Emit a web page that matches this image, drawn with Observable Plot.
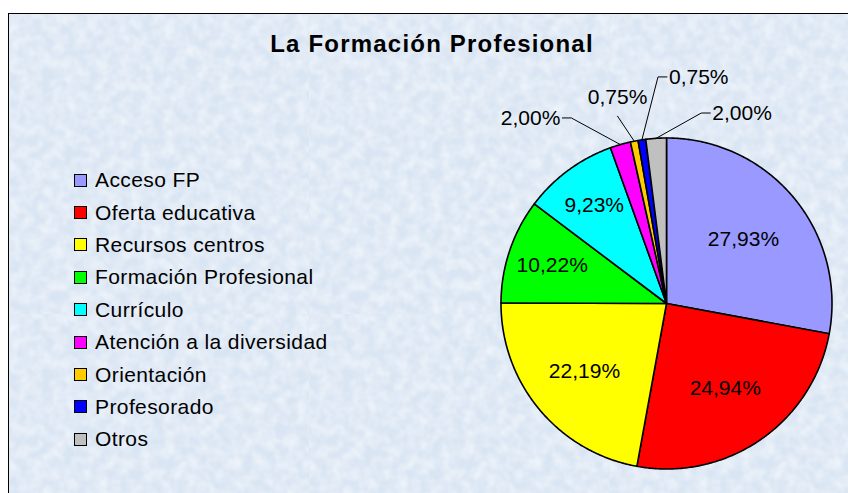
<!DOCTYPE html>
<html><head><meta charset="utf-8">
<script src="https://cdn.jsdelivr.net/npm/d3@7"></script>
<script src="https://cdn.jsdelivr.net/npm/@observablehq/plot@0.6"></script>
<style>
body{margin:0;background:#fff;}
#page{position:relative;width:848px;height:493px;overflow:hidden;font-family:"Liberation Sans",Arial,sans-serif;color:#000;}
#frame{position:absolute;left:8px;top:13px;width:900px;height:520px;border:1px solid #000;background-color:#d9e5f3;
  background-image:url("data:image/svg+xml;utf8,<svg xmlns='http://www.w3.org/2000/svg' width='300' height='300'><filter id='n'><feTurbulence type='fractalNoise' baseFrequency='0.09' numOctaves='2' seed='3'/><feColorMatrix values='0 0 0 0 1  0 0 0 0 1  0 0 0 0 1  0 0 0 0.9 -0.25'/></filter><rect width='100%' height='100%' filter='url(%23n)'/></svg>");}
#title{position:absolute;left:0;width:864px;top:32px;text-align:center;font-size:24px;line-height:24px;font-weight:bold;letter-spacing:1.2px;}
#legend{position:absolute;left:74px;top:164px;width:320px;}
#legend .lg-swatches{font-family:"Liberation Sans",Arial,sans-serif !important;font-size:21px !important;letter-spacing:0.4px;color:#000;margin:0 !important;}
#legend .lg-swatch{height:32.4px;padding:0 !important;margin:0 !important;display:flex !important;align-items:center;}
#legend .lg-swatch > svg{margin-right:8px !important;border:1px solid #000;}
#pie{position:absolute;left:440px;top:40px;}
</style></head>
<body>
<div id="page">
  <div id="frame"></div>
  <div id="title">La Formación Profesional</div>
  <div id="legend"></div>
  <div id="pie"></div>
</div>
<script>
// ---- data ----
const categories = ["Acceso FP","Oferta educativa","Recursos centros","Formación Profesional","Currículo","Atención a la diversidad","Orientación","Profesorado","Otros"];
const values = [27.93, 24.94, 22.19, 10.22, 9.23, 2.00, 0.75, 0.75, 2.00];
const labels = ["27,93%","24,94%","22,19%","10,22%","9,23%","2,00%","0,75%","0,75%","2,00%"];
const colors = ["#9999ff","#ff0000","#ffff00","#00ff00","#00ffff","#ff00ff","#ffcc00","#0000ff","#c0c0c0"];

// ---- layout ----
const R = 165.5, CX = 666, CY = 303;
const PL = 440, PT = 40, PW = 848 - PL, PH = 493 - PT;
const xDomain = [(PL - CX) / R, (PL + PW - CX) / R];
const yDomain = [(CY - (PT + PH)) / R, (CY - PT) / R];
const px = v => v / R;

const total = d3.sum(values);
let cum = 0;
const slices = values.map((v, i) => {
  const a0 = cum / total * 2 * Math.PI;
  cum += v;
  const a1 = cum / total * 2 * Math.PI;
  return {cat: categories[i], label: labels[i], frac: v / total, a0, a1, mid: (a0 + a1) / 2, i};
});
const pt = (r, a) => ({x: r * Math.sin(a), y: r * Math.cos(a)});

// slice polygons
const sliceRows = [];
for (const s of slices) {
  sliceRows.push({cat: s.cat, ...pt(0, 0)});
  const n = Math.max(2, Math.ceil((s.a1 - s.a0) / (Math.PI / 360)));
  for (let k = 0; k <= n; k++) sliceRows.push({cat: s.cat, ...pt(1, s.a0 + (s.a1 - s.a0) * k / n)});
}

// inside labels
const inside = slices.filter(s => s.frac >= 0.05).map(s => ({text: s.label, ...pt(0.8 - 0.7 * s.frac, s.mid)}));

// outside labels (small slices), spread around their mean angle
const small = slices.filter(s => s.frac < 0.05);
const meanMid = d3.mean(small, s => s.mid);
const sep = 12.5 * Math.PI / 180;
const leaderRows = [], outside = [];
small.forEach((s, j) => {
  const ang = meanMid + 1.5 * Math.PI / 180 + (j - (small.length - 1) / 2) * sep;
  const re = 1.17 + (j % 2 === 0 ? (j === 0 ? 0.09 : 0.2) : 0);
  const e = pt(re, ang);
  const sn = Math.sin(ang);
  const anchor = sn < -0.35 ? "end" : sn < -0.1 ? "middle" : "start";
  const p0 = pt(1, s.mid);
  leaderRows.push({id: j, ...p0}, {id: j, ...e});
  if (anchor === "middle") {
    outside.push({anchor, text: s.label, x: e.x, y: e.y + px(19)});
  } else {
    const dir = anchor === "end" ? -1 : 1;
    leaderRows.push({id: j, x: e.x + dir * px(9), y: e.y});
    outside.push({anchor, text: s.label, x: e.x + dir * px(11), y: e.y});
  }
});

const color = {domain: categories, range: colors};

const pie = Plot.plot({
  width: PW, height: PH, margin: 0,
  x: {domain: xDomain, axis: null},
  y: {domain: yDomain, axis: null},
  color,
  style: {background: "transparent", fontFamily: "'Liberation Sans', Arial, sans-serif", color: "#000", overflow: "visible"},
  marks: [
    Plot.line(leaderRows, {x: "x", y: "y", z: "id", stroke: "#000", strokeWidth: 1}),
    Plot.line(sliceRows, {x: "x", y: "y", z: "cat", fill: "cat", stroke: "#000", strokeWidth: 1.6, strokeLinejoin: "round", curve: "linear-closed"}),
    Plot.text(inside, {x: "x", y: "y", text: "text", fontSize: 21, fill: "#000"}),
    Plot.text(outside, {filter: d => d.anchor === "end", x: "x", y: "y", text: "text", fontSize: 21, textAnchor: "end", fill: "#000"}),
    Plot.text(outside, {filter: d => d.anchor === "start", x: "x", y: "y", text: "text", fontSize: 21, textAnchor: "start", fill: "#000"}),
    Plot.text(outside, {filter: d => d.anchor === "middle", x: "x", y: "y", text: "text", fontSize: 21, textAnchor: "middle", fill: "#000"})
  ]
});
document.getElementById("pie").appendChild(pie);

const legend = Plot.legend({color: {...color, type: "ordinal"}, columns: 1, swatchSize: 11, className: "lg"});
document.getElementById("legend").appendChild(legend);
</script>
</body></html>
